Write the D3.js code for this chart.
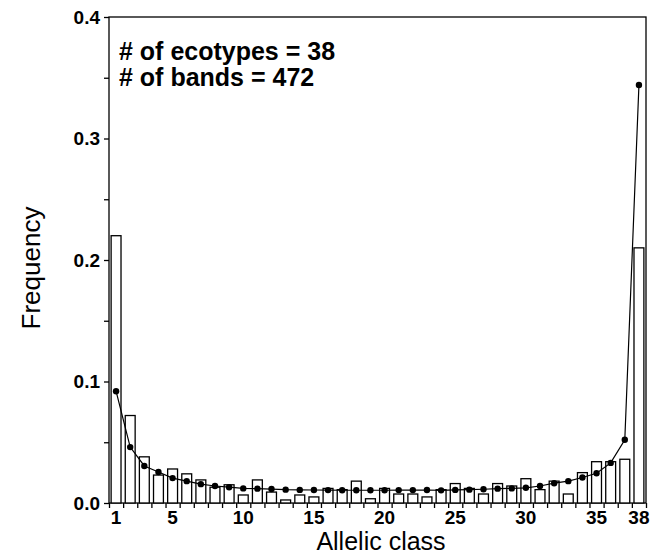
<!DOCTYPE html>
<html>
<head>
<meta charset="utf-8">
<script src="https://cdn.jsdelivr.net/npm/d3@7"></script>
<style>
    body { margin: 0; background: #fff; }
    svg { display: block; font-family: "Liberation Sans", Arial, Helvetica, sans-serif; }
</style>
</head>
<body>
<svg id="chart"></svg>
<script>
// allelic classes 1..38
var classes = d3.range(1, 39);

// observed band frequency per allelic class (bars)
var observed = [0.220, 0.072, 0.038, 0.023, 0.028, 0.024, 0.019, 0.013, 0.015, 0.0066,
    0.019, 0.009, 0.0025, 0.0066, 0.005, 0.012, 0.011, 0.018, 0.0035, 0.012,
    0.0074, 0.0074, 0.005, 0.011, 0.016, 0.012, 0.0074, 0.016, 0.014, 0.020,
    0.011, 0.018, 0.0074, 0.025, 0.034, 0.034, 0.036, 0.210];

// expected frequency (line with dots)
var expected = [0.092, 0.046, 0.0305, 0.0255, 0.0205, 0.018, 0.0155, 0.014, 0.013, 0.012,
    0.0118, 0.0115, 0.011, 0.0108, 0.0107, 0.0106, 0.0105, 0.0105, 0.0105, 0.0105,
    0.0106, 0.0106, 0.0107, 0.0104, 0.0108, 0.011, 0.0113, 0.0118, 0.012, 0.0125,
    0.014, 0.0163, 0.018, 0.021, 0.0245, 0.033, 0.052, 0.344];

var xLabels = [1, 5, 10, 15, 20, 25, 30, 35, 38];
var yTicks = [0, 0.05, 0.1, 0.15, 0.2, 0.25, 0.3, 0.35, 0.4];
var yLabels = [0, 0.1, 0.2, 0.3, 0.4];
var notes = ['# of ecotypes = 38', '# of bands = 472'];

var width = 660, height = 557;
var svg = d3.select('#chart').attr('width', width).attr('height', height);

var x = d3.scaleLinear().domain([0.5, 38.5]).range([109, 646]);
var y = d3.scaleLinear().domain([0, 0.4]).range([503, 17]);
var barW = (x(2) - x(1)) * 0.7;

// frame
svg.append('rect')
    .attr('x', x(0.5)).attr('y', y(0.4))
    .attr('width', x(38.5) - x(0.5)).attr('height', y(0) - y(0.4))
    .attr('fill', 'none').attr('stroke', '#000').attr('stroke-width', 1.3);

// bars
svg.append('g').selectAll('rect')
    .data(classes)
    .enter()
    .append('rect')
    .attr('x', function (d) { return x(d) - barW / 2; })
    .attr('y', function (d, i) { return y(observed[i]); })
    .attr('width', barW)
    .attr('height', function (d, i) { return y(0) - y(observed[i]); })
    .attr('fill', '#fff')
    .attr('stroke', '#000')
    .attr('stroke-width', 1.3);

// expected line
var line = d3.line()
    .x(function (d) { return x(d); })
    .y(function (d, i) { return y(expected[i]); });

svg.append('path')
    .datum(classes)
    .attr('d', line)
    .attr('fill', 'none')
    .attr('stroke', '#000')
    .attr('stroke-width', 1.2);

svg.append('g').selectAll('circle')
    .data(classes)
    .enter()
    .append('circle')
    .attr('cx', function (d) { return x(d); })
    .attr('cy', function (d, i) { return y(expected[i]); })
    .attr('r', 3.2)
    .attr('fill', '#000');

// y axis
var yAxis = svg.append('g')
    .attr('transform', 'translate(' + x(0.5) + ',0)')
    .call(d3.axisLeft(y).tickValues(yTicks).tickSize(5).tickFormat(function (d) {
        return yLabels.indexOf(d) >= 0 ? d3.format('.1f')(d) : '';
    }));
yAxis.select('.domain').remove();
yAxis.selectAll('line').attr('stroke-width', 1.3);
yAxis.selectAll('text')
    .attr('x', -9)
    .style('font-size', '19px')
    .style('font-weight', 'bold')
    .style('font-family', '"Liberation Sans", Arial, sans-serif');

// x axis: ticks on class boundaries, labels on class centres
var xAxis = svg.append('g')
    .attr('transform', 'translate(0,' + y(0) + ')')
    .call(d3.axisBottom(x).tickValues(d3.range(0.5, 39, 1)).tickSize(5).tickFormat(''));
xAxis.select('.domain').remove();
xAxis.selectAll('line').attr('stroke-width', 1.3);

svg.append('g').selectAll('text')
    .data(xLabels)
    .enter()
    .append('text')
    .attr('x', function (d) { return x(d); })
    .attr('y', 524)
    .attr('text-anchor', 'middle')
    .style('font-size', '19px')
    .style('font-weight', 'bold')
    .text(function (d) { return d; });

// axis titles
svg.append('text')
    .attr('x', 381).attr('y', 550)
    .attr('text-anchor', 'middle')
    .style('font-size', '25px')
    .text('Allelic class');

svg.append('text')
    .attr('transform', 'translate(40,268) rotate(-90)')
    .attr('text-anchor', 'middle')
    .style('font-size', '26px')
    .text('Frequency');

// annotation
svg.append('g').selectAll('text')
    .data(notes)
    .enter()
    .append('text')
    .attr('x', 119)
    .attr('y', function (d, i) { return 60 + i * 26; })
    .style('font-size', '25px')
    .style('font-weight', 'bold')
    .text(function (d) { return d; });
</script>
</body>
</html>
